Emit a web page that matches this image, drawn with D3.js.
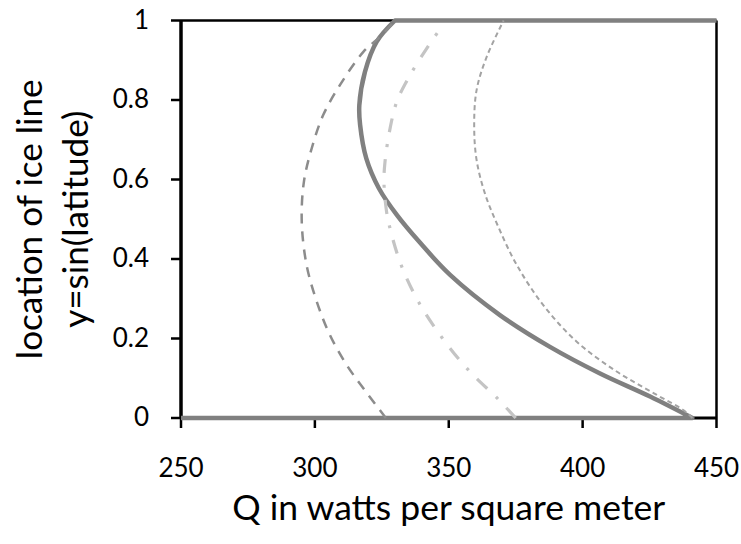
<!DOCTYPE html>
<html>
<head>
<meta charset="utf-8">
<script src="https://cdn.jsdelivr.net/npm/d3@7"></script>
<style>
  html, body { margin: 0; padding: 0; background: #ffffff; }
  svg { display: block; }
  text { font-family: "Lato", "Open Sans", sans-serif; fill: #000; }
</style>
</head>
<body>
<svg id="chart" width="741" height="544"></svg>
<script>
// Axis ticks
const qTicks = [250, 300, 350, 400, 450];
const yTicks = [0, 0.2, 0.4, 0.6, 0.8, 1];
const yTickLabels = ["0", "0.2", "0.4", "0.6", "0.8", "1"];

// Reference solution: ice line position vs. solar input (thick solid)
const solidQ = [441, 425.2, 406.5, 387.8, 369.1, 350.5, 339.4, 330.6, 323.9, 319.2, 316.9, 316.6, 318.7, 323.1, 329.9];
const solidY = [0, 0.054, 0.112, 0.179, 0.259, 0.360, 0.44, 0.511, 0.578, 0.653, 0.737, 0.787, 0.871, 0.947, 1];
// Ice-covered branch (y = 0) and ice-free branch (y = 1) of the same solution
const snowballQ = [250, 441];
const snowballY = [0, 0];
const iceFreeQ = [329.9, 450];
const iceFreeY = [1, 1];

// Lower-Q variant (medium dashed)
const lowQ = [326.5, 318.1, 311.9, 305.6, 300.7, 296.9, 295.1, 295.9, 298.8, 303.1, 309.4, 318.1, 324.8, 330];
const lowY = [0, 0.075, 0.133, 0.209, 0.293, 0.385, 0.494, 0.594, 0.678, 0.762, 0.838, 0.921, 0.962, 1];

// Intermediate variant (light dash-dot)
const midQ = [375, 368.5, 357.3, 347.5, 338.8, 332.1, 327.6, 326.6, 325.8, 326.2, 328.1, 330.6, 334.9, 341.8, 347.1];
const midY = [0, 0.047, 0.121, 0.202, 0.291, 0.387, 0.490, 0.528, 0.594, 0.645, 0.729, 0.796, 0.855, 0.930, 0.982];

// Higher-Q variant (thin short dashes)
const highQ = [441, 437.6, 427.7, 412.7, 397.8, 385.3, 375.4, 368.5, 363.5, 360.4, 359.5, 360.4, 364.2, 370.5];
const highY = [0, 0.020, 0.058, 0.117, 0.192, 0.284, 0.385, 0.481, 0.565, 0.649, 0.733, 0.825, 0.909, 1];

const zip = (qs, ys) => qs.map((q, i) => ({ q, y: ys[i] }));

const svg = d3.select("#chart");
const x = d3.scaleLinear().domain([250, 450]).range([181, 716.5]);
const y = d3.scaleLinear().domain([0, 1]).range([418, 20.5]);

const straight = d3.line().x(d => x(d.q)).y(d => y(d.y));
const smooth = d3.line().x(d => x(d.q)).y(d => y(d.y)).curve(d3.curveCatmullRom.alpha(0.5));

// Frame: top and right borders
svg.append("line")
  .attr("x1", x(250)).attr("x2", x(450)).attr("y1", y(1)).attr("y2", y(1))
  .attr("stroke", "#000").attr("stroke-width", 2.5);
svg.append("line")
  .attr("x1", x(450)).attr("x2", x(450)).attr("y1", y(1)).attr("y2", y(0))
  .attr("stroke", "#000").attr("stroke-width", 2.5);

// Bottom axis
const gx = svg.append("g").attr("transform", `translate(0,${y(0)})`)
  .call(d3.axisBottom(x).tickValues(qTicks).tickSize(10).tickSizeOuter(0).tickPadding(31).offset(0));
gx.select(".domain").attr("stroke", "#000").attr("stroke-width", 3);
gx.selectAll(".tick line").attr("stroke", "#000").attr("stroke-width", 2.5);
gx.selectAll(".tick text").attr("font-size", 26).attr("font-family", "Lato").attr("fill", "#000");

// Left axis
const gy = svg.append("g").attr("transform", `translate(${x(250)},0)`)
  .call(d3.axisLeft(y).tickValues(yTicks).tickFormat((d, i) => yTickLabels[i])
    .tickSize(10).tickSizeOuter(0).tickPadding(22).offset(0));
gy.select(".domain").attr("stroke", "#000").attr("stroke-width", 3.5);
gy.selectAll(".tick line").attr("stroke", "#000").attr("stroke-width", 2.5);
gy.selectAll(".tick text").attr("font-size", 26).attr("font-family", "Lato").attr("fill", "#000");

// Thick solid series: snowball branch, curved ice line, ice-free branch
const solidPath = straight(zip(snowballQ, snowballY))
  + smooth(zip(solidQ, solidY)).replace(/^M/, "L")
  + straight(zip(iceFreeQ, iceFreeY)).replace(/^M/, "L");
svg.append("path")
  .attr("d", solidPath)
  .attr("fill", "none").attr("stroke", "#808080").attr("stroke-width", 4.5)
  .attr("stroke-linejoin", "round");

// Light dash-dot series
svg.append("path")
  .attr("d", smooth(zip(midQ, midY)))
  .attr("fill", "none").attr("stroke", "#c4c4c4").attr("stroke-width", 3.2)
  .attr("stroke-dasharray", "14,12,3,12");

// Medium dashed series
svg.append("path")
  .attr("d", smooth(zip(lowQ, lowY)))
  .attr("fill", "none").attr("stroke", "#8c8c8c").attr("stroke-width", 2.5)
  .attr("stroke-dasharray", "10,8");

// Thin short-dashed series
svg.append("path")
  .attr("d", smooth(zip(highQ, highY)))
  .attr("fill", "none").attr("stroke", "#a3a3a3").attr("stroke-width", 2)
  .attr("stroke-dasharray", "5,3.5");

// Scale a text element so its rendered width matches the given length
function fitWidth(sel, width) {
  const w = sel.node().getComputedTextLength();
  const fs = parseFloat(sel.attr("font-size"));
  sel.attr("font-size", fs * width / w);
  return fs * width / w;
}

const plotMidX = (x(250) + x(450)) / 2;
const plotMidY = (y(0) + y(1)) / 2;

// X axis title
const xt = svg.append("text")
  .attr("x", plotMidX).attr("y", 520)
  .attr("text-anchor", "middle").attr("font-size", 34)
  .text("Q in watts per square meter");
fitWidth(xt, 433);

// Y axis title, two rotated lines
const yt = svg.append("g").attr("transform", "rotate(-90)");
const yl1 = yt.append("text")
  .attr("x", -plotMidY).attr("y", 41.5).attr("text-anchor", "middle").attr("font-size", 34)
  .text("location of ice line");
const fsY = fitWidth(yl1, 280);
yt.append("text")
  .attr("x", -plotMidY).attr("y", 87.5).attr("text-anchor", "middle").attr("font-size", fsY)
  .text("y=sin(latitude)");
</script>
</body>
</html>
